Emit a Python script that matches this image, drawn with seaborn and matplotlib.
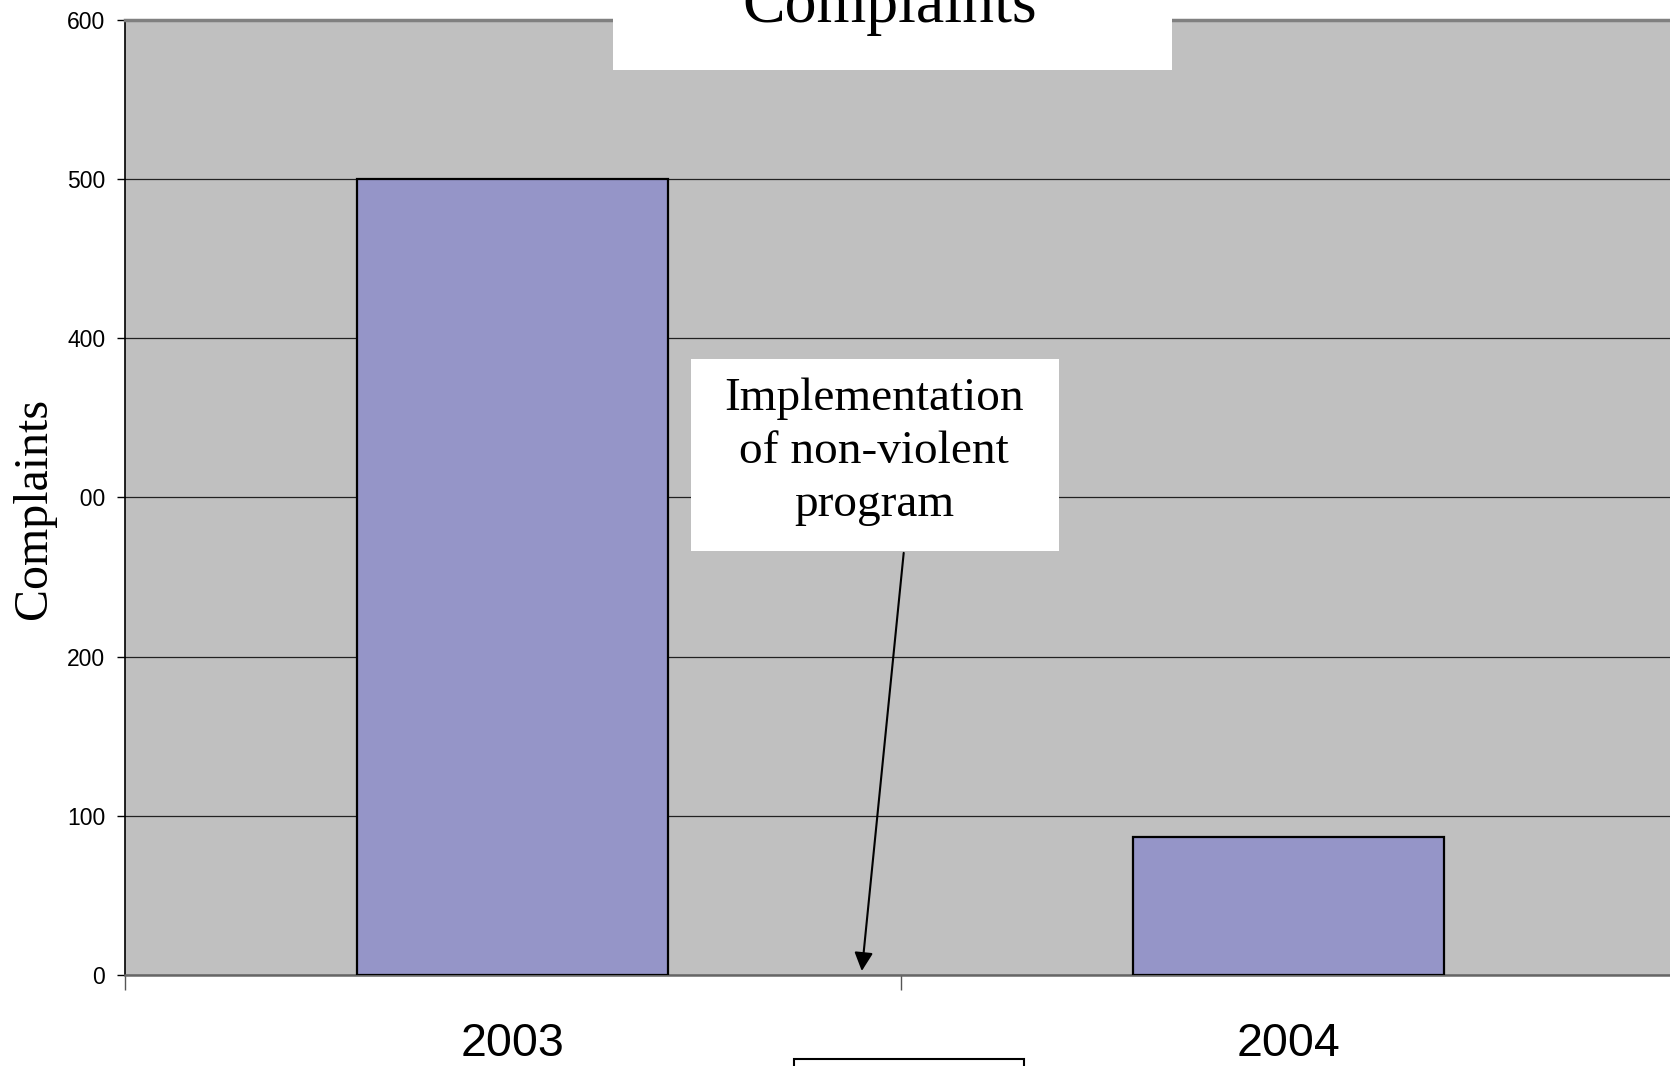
import matplotlib
matplotlib.use("Agg")
import matplotlib.pyplot as plt
import seaborn as sns
import pandas as pd
from matplotlib.patches import Rectangle

years = ["2003", "2004"]
complaints = [500, 87]
y_ticks = [0, 100, 200, 300, 400, 500, 600]
title_text = "Complaints"
ylabel_text = "Complaints"
note_text = "Implementation\nof non-violent\nprogram"

df = pd.DataFrame({"year": years, "complaints": complaints})

sns.set_theme(style="white")
plt.rcParams["font.family"] = ["Liberation Sans", "DejaVu Sans"]
plt.rcParams["text.color"] = "black"
plt.rcParams["xtick.color"] = "black"
plt.rcParams["ytick.color"] = "black"

W, H = 1670, 1066
fig = plt.figure(figsize=(W / 100, H / 100), dpi=100)
fig.patch.set_facecolor("white")

ax_l, ax_r, ax_t, ax_b = 124.6, 1676.6, 20, 975
ax = fig.add_axes([ax_l / W, (H - ax_b) / H, (ax_r - ax_l) / W, (ax_b - ax_t) / H])
ax.set_facecolor("#C0C0C0")

sns.barplot(data=df, x="year", y="complaints", ax=ax, color="#9595C8",
            saturation=1, width=0.4, edgecolor="black", linewidth=1.6, zorder=3)

ax.set_xlim(-0.5, 1.5)
ax.set_ylim(0, 600)
ax.set_yticks(y_ticks)
ax.set_yticklabels([str(v) for v in y_ticks])
ax.yaxis.grid(True, color="#222222", linewidth=0.9, zorder=1)
ax.set_axisbelow(True)

ax.set_xticks([0, 1])
ax.set_xticklabels(years)
ax.set_xticks([-0.5, 0.5, 1.5], minor=True)
ax.tick_params(axis="x", which="major", bottom=True, length=0, pad=34, labelsize=33.5,
               labelcolor="black")
ax.tick_params(axis="x", which="minor", bottom=True, length=11, width=1, color="#555555",
               direction="out")
ax.tick_params(axis="y", which="major", length=6, width=1, color="black", direction="out",
               pad=8, labelsize=16.5, left=True, labelcolor="black")
ax.set_xlabel("")
ax.set_ylabel("")

ax.spines["left"].set_color("black")
ax.spines["left"].set_linewidth(1.2)
ax.spines["bottom"].set_color("#666666")
ax.spines["bottom"].set_linewidth(1.8)
ax.spines["top"].set_color("#808080")
ax.spines["top"].set_linewidth(2.5)
ax.spines["right"].set_visible(False)

# annotation box + arrow
ax.add_patch(Rectangle((0.365, 0.444), 0.237, 0.201, transform=ax.transAxes,
                       facecolor="white", edgecolor="none", zorder=5))
ax.text(0.483, 0.548, note_text, transform=ax.transAxes, ha="center", va="center",
        fontsize=34, color="black", family=["Liberation Serif", "DejaVu Serif"],
        linespacing=1.32, zorder=6)
ax.annotate("", xy=(0.450, 2.5), xycoords="data",
            xytext=(0.502, 0.442), textcoords="axes fraction",
            arrowprops=dict(arrowstyle="-|>", color="black", lw=1.5, mutation_scale=28,
                            shrinkA=0, shrinkB=0), zorder=6)

# title box
fig.add_artist(Rectangle((613 / W, (H - 70) / H), (1172 - 613) / W, 75 / H,
                         transform=fig.transFigure, facecolor="white", edgecolor="none", zorder=2))
fig.text(890 / W, (H - 22) / H, title_text, ha="center", va="baseline", fontsize=46,
         color="black", family=["Liberation Serif", "DejaVu Serif"], zorder=4)

# bottom empty box
fig.add_artist(Rectangle((794 / W, -10 / H), (1024 - 794) / W, (10 + 1066 - 1059) / H,
                         transform=fig.transFigure, facecolor="white", edgecolor="black",
                         linewidth=1.5, zorder=2))

# y label with white background
fig.text(34 / W, (H - 508) / H, ylabel_text, rotation=90, ha="center", va="center",
         fontsize=34.5, color="black", family=["Liberation Serif", "DejaVu Serif"],
         bbox=dict(boxstyle="square,pad=0.5", facecolor="white", edgecolor="none"), zorder=4)

fig.savefig("out.png", dpi=100, facecolor="white")
